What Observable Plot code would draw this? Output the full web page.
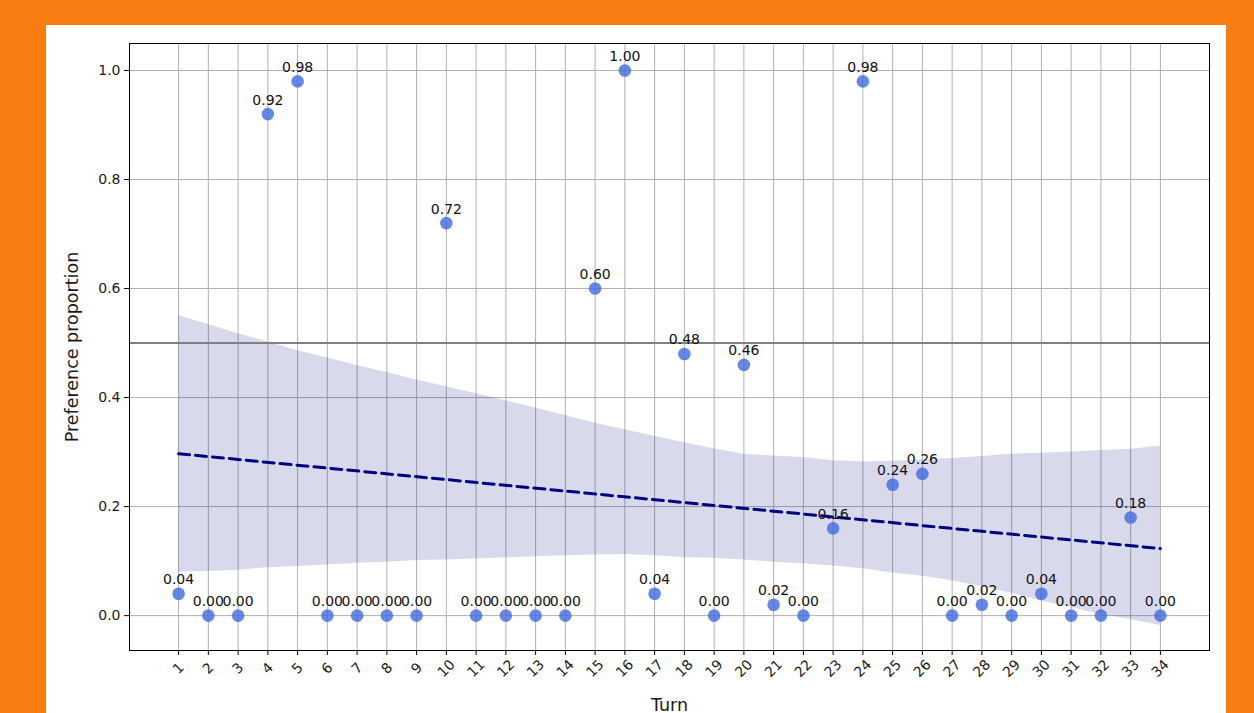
<!DOCTYPE html>
<html>
<head>
<meta charset="utf-8">
<script src="https://cdn.jsdelivr.net/npm/d3@7"></script>
<script src="https://cdn.jsdelivr.net/npm/@observablehq/plot@0.6"></script>
<style>
  html, body { margin: 0; padding: 0; background: #F97C10; }
  body { width: 1254px; height: 713px; overflow: hidden; position: relative; }
  #panel { position: absolute; left: 46px; top: 25px; width: 1180px; height: 688px; background: white; }
  #panel svg { display: block; }
  [aria-label="x-axis label"], [aria-label="y-axis label"] { font-size: 17.5px; }
</style>
</head>
<body>
<div id="panel"></div>
<script>
const turns = [1,2,3,4,5,6,7,8,9,10,11,12,13,14,15,16,17,18,19,20,21,22,23,24,25,26,27,28,29,30,31,32,33,34];
const proportions = [0.04,0.00,0.00,0.92,0.98,0.00,0.00,0.00,0.00,0.72,0.00,0.00,0.00,0.00,0.60,1.00,0.04,0.48,0.00,0.46,0.02,0.00,0.16,0.98,0.24,0.26,0.00,0.02,0.00,0.04,0.00,0.00,0.18,0.00];
const bandUpper = [0.550,0.534,0.517,0.502,0.486,0.473,0.459,0.446,0.432,0.420,0.407,0.394,0.381,0.367,0.353,0.341,0.329,0.317,0.306,0.296,0.293,0.290,0.284,0.282,0.283,0.286,0.288,0.292,0.296,0.298,0.300,0.303,0.305,0.311];
const bandLower = [0.080,0.081,0.083,0.088,0.090,0.093,0.096,0.098,0.101,0.102,0.104,0.106,0.108,0.110,0.111,0.112,0.110,0.106,0.105,0.102,0.098,0.095,0.091,0.086,0.078,0.072,0.064,0.053,0.041,0.027,0.015,0.002,-0.007,-0.018];
const fitTurns = [1, 34];
const fitValues = [0.297, 0.123];
const yTicks = [0.0, 0.2, 0.4, 0.6, 0.8, 1.0];
const threshold = [0.5];

const points = turns.map((t, i) => ({turn: t, value: proportions[i], label: proportions[i].toFixed(2)}));
const band = turns.map((t, i) => ({turn: t, lower: bandLower[i], upper: bandUpper[i]}));
const fit = fitTurns.map((t, i) => ({turn: t, value: fitValues[i]}));

const chart = Plot.plot({
  width: 1180,
  height: 688,
  marginLeft: 83,
  marginRight: 17,
  marginTop: 18,
  marginBottom: 63,
  style: {fontFamily: "DejaVu Sans, sans-serif", fontSize: "14px", color: "#1a1a1a", background: "white", overflow: "visible"},
  x: {domain: [-0.65, 35.65]},
  y: {domain: [-0.064, 1.0495]},
  marks: [
    Plot.gridX(turns, {stroke: "#b0b0b0", strokeOpacity: 1, strokeWidth: 1}),
    Plot.gridY(yTicks, {stroke: "#b0b0b0", strokeOpacity: 1, strokeWidth: 1}),
    Plot.areaY(band, {x: "turn", y1: "lower", y2: "upper", fill: "navy", fillOpacity: 0.15}),
    Plot.ruleY(threshold, {stroke: "gray", strokeWidth: 2}),
    Plot.line(fit, {x: "turn", y: "value", stroke: "navy", strokeWidth: 3, strokeDasharray: "11,6"}),
    Plot.dot(points, {x: "turn", y: "value", r: 6.3, fill: "royalblue", fillOpacity: 0.8, stroke: "none"}),
    Plot.text(points, {x: "turn", y: "value", text: "label", dy: -14, fontSize: 14, fill: "#111"}),
    Plot.axisY(yTicks, {tickFormat: d3.format(".1f"), tickSize: 5, tickPadding: 4, fontSize: 14, label: "Preference proportion", labelAnchor: "center", labelArrow: "none", labelOffset: 64, stroke: "black"}),
    Plot.axisX(turns, {tickSize: 5, tickRotate: -45, textAnchor: "middle", lineAnchor: "middle", tickPadding: 13, fontSize: 14, label: "Turn", labelAnchor: "center", labelArrow: "none", labelOffset: 60, stroke: "black"}),
    Plot.frame({stroke: "black", strokeWidth: 1})
  ]
});
document.getElementById("panel").appendChild(chart);
</script>
</body>
</html>
